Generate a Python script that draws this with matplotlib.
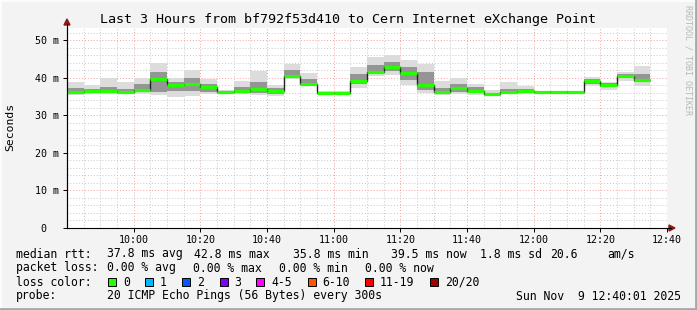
import matplotlib
matplotlib.use('Agg')
import matplotlib.pyplot as plt
import matplotlib.dates as mdates
from matplotlib.ticker import MultipleLocator, FixedLocator, FixedFormatter
from matplotlib.patches import Rectangle, Polygon
from matplotlib.lines import Line2D
import pandas as pd

# ---------------- data ----------------
title = "Last 3 Hours from bf792f53d410 to Cern Internet eXchange Point"
day = "2025-11-09"
first_step = "2025-11-09 09:40"
step_minutes = 5
x_start = "2025-11-09 09:40"
x_end = "2025-11-09 12:40"

median_ms = [36.3, 36.5, 36.5, 36.2, 36.8, 39.6, 38.0, 38.5, 37.7, 36.2,
             36.5, 37.0, 36.5, 40.5, 38.5, 36.0, 36.0, 39.2, 41.7, 42.8,
             41.3, 38.0, 36.2, 37.2, 36.6, 35.8, 36.2, 36.4, 36.2, 36.2,
             36.2, 39.3, 38.0, 40.5, 39.5]
smoke_max_ms = [38.9, 38.2, 40.0, 38.9, 40.1, 44.0, 40.1, 42.0, 39.6, 36.8,
                39.3, 41.8, 38.0, 43.8, 41.2, 36.6, 36.5, 42.8, 45.5, 46.0,
                44.9, 43.8, 39.3, 40.0, 38.5, 36.9, 38.9, 37.9, 36.6, 36.6,
                36.6, 40.2, 39.0, 41.5, 43.3]
smoke_min_ms = [35.5, 35.8, 35.8, 35.6, 35.6, 35.4, 34.9, 35.2, 35.8, 35.8,
                35.8, 35.5, 35.2, 39.6, 38.0, 35.6, 35.6, 37.3, 40.5, 40.8,
                38.0, 36.1, 35.5, 35.8, 35.5, 35.3, 35.8, 35.8, 36.0, 36.0,
                36.0, 37.8, 36.8, 39.3, 37.8]
core_hi_ms = [37.2, 37.0, 37.5, 37.0, 38.5, 41.5, 39.0, 40.0, 38.5, 36.6,
              37.5, 39.0, 37.2, 42.0, 39.8, 36.3, 36.3, 41.0, 43.5, 44.3,
              43.0, 41.5, 37.2, 38.5, 37.5, 36.0, 37.0, 37.0, 36.4, 36.4,
              36.4, 39.8, 38.6, 41.0, 41.0]
core_lo_ms = [36.0, 36.0, 36.0, 35.9, 36.2, 36.3, 36.5, 36.5, 36.3, 36.0,
              36.0, 36.0, 35.8, 40.0, 38.3, 35.8, 35.8, 38.3, 41.3, 41.8,
              39.5, 36.8, 35.9, 36.3, 36.0, 35.5, 35.9, 36.0, 36.1, 36.1,
              36.1, 38.5, 37.5, 40.0, 38.8]

y_ticks = [0, 10, 20, 30, 40, 50]
y_tick_labels = ["0  ", "10 m", "20 m", "30 m", "40 m", "50 m"]
x_tick_labels = ["10:00", "10:20", "10:40", "11:00", "11:20", "11:40",
                 "12:00", "12:20", "12:40"]

rtt_label = "median rtt:"
rtt_items = ["37.8 ms avg", "42.8 ms max", "35.8 ms min", "39.5 ms now",
             "1.8 ms sd", "20.6", "am/s"]
loss_label = "packet loss:"
loss_items = ["0.00 % avg", "0.00 % max", "0.00 % min", "0.00 % now"]
color_label = "loss color:"
loss_classes = ["0", "1", "2", "3", "4-5", "6-10", "11-19", "20/20"]
loss_colors = ["#26ff00", "#00b8ff", "#0059ff", "#7e00ff", "#ff00ff",
               "#ff5500", "#ff0000", "#a10000"]
probe_label = "probe:"
probe_text = "20 ICMP Echo Pings (56 Bytes) every 300s"
stamp_text = "Sun Nov  9 12:40:01 2025"
watermark = "RRDTOOL / TOBI OETIKER"

# ---------------- layout ----------------
W, H = 697, 310
MONO = "DejaVu Sans Mono"

def fx(x):
    return x / W

def fy(y):
    return 1 - y / H

fig = plt.figure(figsize=(W / 100, H / 100), dpi=100, facecolor="#f3f3f3")
ax = fig.add_axes([fx(67), fy(228), 600 / W, 200 / H])
ax.set_facecolor("white")

edges = pd.date_range(first_step, periods=len(median_ms) + 1,
                      freq=f"{step_minutes}min")
en = mdates.date2num(edges.to_pydatetime())
left = en[:-1]
width = en[1] - en[0]

smoke_h = [hi - lo for hi, lo in zip(smoke_max_ms, smoke_min_ms)]
core_h = [hi - lo for hi, lo in zip(core_hi_ms, core_lo_ms)]
ax.bar(left, smoke_h, bottom=smoke_min_ms, width=width, align="edge",
       color="#dcdcdc", linewidth=0, zorder=2)
ax.bar(left, core_h, bottom=core_lo_ms, width=width, align="edge",
       color="#959595", linewidth=0, zorder=3)
ax.stairs(median_ms, en, color="#202020", linewidth=1.0, zorder=4,
          baseline=None)
ax.hlines(median_ms, en[:-1], en[1:], color=loss_colors[0], linewidth=2.3,
          zorder=5)

ax.set_xlim(mdates.date2num(pd.Timestamp(x_start)),
            mdates.date2num(pd.Timestamp(x_end)))
ax.set_ylim(0, 53.3)

x_tick_pos = [mdates.date2num(pd.Timestamp(f"{day} {t}")) for t in x_tick_labels]
ax.xaxis.set_major_locator(FixedLocator(x_tick_pos))
ax.xaxis.set_major_formatter(FixedFormatter(x_tick_labels))
ax.xaxis.set_minor_locator(mdates.MinuteLocator(byminute=range(0, 60, 5)))
ax.yaxis.set_major_locator(FixedLocator(y_ticks))
ax.yaxis.set_major_formatter(FixedFormatter(y_tick_labels))
ax.yaxis.set_minor_locator(MultipleLocator(2))

ax.set_axisbelow(True)
ax.grid(which="minor", color="#c8c8c8", linestyle=(0, (1, 2)), linewidth=0.7)
ax.grid(which="major", color="#f2a0a0", linestyle=(0, (1, 2)), linewidth=0.7)

for s in ["top", "right"]:
    ax.spines[s].set_visible(False)
for s in ["left", "bottom"]:
    ax.spines[s].set_color("black")
    ax.spines[s].set_linewidth(0.8)

ax.tick_params(axis="both", which="major", length=3, width=0.7,
               color="#000000", labelsize=7.2, pad=3)
ax.tick_params(axis="both", which="minor", length=0)
for lab in ax.get_xticklabels() + ax.get_yticklabels():
    lab.set_family(MONO)
ax.tick_params(axis="x", pad=2)

# axis extensions and arrows
fig.add_artist(Line2D([fx(67), fx(67)], [fy(228), fy(24)], color="black",
                      linewidth=0.8))
fig.add_artist(Line2D([fx(667), fx(671)], [fy(228), fy(228)], color="black",
                      linewidth=0.8))
fig.add_artist(Polygon([[fx(64), fy(25)], [fx(70), fy(25)], [fx(67), fy(19)]],
                       closed=True, color="#8b1a1a", transform=fig.transFigure))
fig.add_artist(Polygon([[fx(669), fy(225)], [fx(669), fy(231)], [fx(675), fy(228)]],
                       closed=True, color="#8b1a1a", transform=fig.transFigure))

# title and labels
fig.text(fx(348), fy(19), title, family=MONO, fontsize=9.6, ha="center",
         va="center", color="black")
fig.text(fx(10), fy(127), "Seconds", family=MONO, fontsize=8.2, rotation=90,
         ha="center", va="center", color="black")
fig.text(fx(688), fy(5), watermark, family=MONO, fontsize=6, rotation=270,
         ha="center", va="top", color="#b8b8b8")

# legend rows
fs = 8.3
row_y = [254, 268, 282, 296]
fig.text(fx(16), fy(row_y[0]), rtt_label, family=MONO, fontsize=fs, va="center")
for x, t in zip([107, 194, 293, 391, 480, 550, 607], rtt_items):
    fig.text(fx(x), fy(row_y[0]), t, family=MONO, fontsize=fs, va="center")
fig.text(fx(16), fy(row_y[1]), loss_label, family=MONO, fontsize=fs, va="center")
for x, t in zip([107, 193, 279, 365], loss_items):
    fig.text(fx(x), fy(row_y[1]), t, family=MONO, fontsize=fs, va="center")
fig.text(fx(16), fy(row_y[2]), color_label, family=MONO, fontsize=fs, va="center")
box_x = [108, 145, 182, 219.5, 256, 307.5, 365, 430]
for x, lbl, c in zip(box_x, loss_classes, loss_colors):
    fig.add_artist(Rectangle((fx(x), fy(row_y[2] + 4)), 8 / W, 8 / H,
                             facecolor=c, edgecolor="black", linewidth=0.7,
                             transform=fig.transFigure))
    fig.text(fx(x + 15), fy(row_y[2]), lbl, family=MONO, fontsize=fs,
             va="center")
fig.text(fx(16), fy(row_y[3]), probe_label, family=MONO, fontsize=fs, va="center")
fig.text(fx(107), fy(row_y[3]), probe_text, family=MONO, fontsize=fs, va="center")
fig.text(fx(681), fy(row_y[3]), stamp_text, family=MONO, fontsize=fs,
         va="center", ha="right")

# frame shading
fig.add_artist(Line2D([fx(1), fx(1)], [fy(0), fy(309)], color="#ffffff", linewidth=1.2))
fig.add_artist(Line2D([fx(0), fx(696)], [fy(1), fy(1)], color="#ffffff", linewidth=1.2))
fig.add_artist(Line2D([fx(696), fx(696)], [fy(0), fy(310)], color="#a8a8a8", linewidth=2))
fig.add_artist(Line2D([fx(0), fx(697)], [fy(309), fy(309)], color="#a8a8a8", linewidth=2))

fig.savefig("out.png", dpi=100, facecolor=fig.get_facecolor())
